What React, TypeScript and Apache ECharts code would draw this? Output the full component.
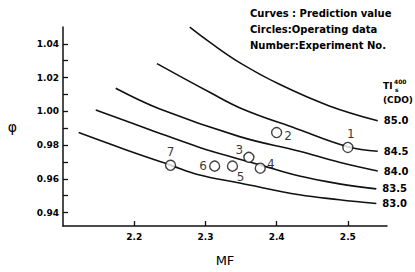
import React, { useEffect, useRef } from "react";
import * as echarts from "echarts";

// Prediction curves (MF, phi) for each TI value
const curveNames = ["85.0", "84.5", "84.0", "83.5", "83.0"];
const curve850: [number, number][] = [
  [2.278, 1.0499], [2.306, 1.041], [2.348, 1.0289], [2.404, 1.016], [2.474, 1.0032], [2.542, 0.9944],
];
const curve845: [number, number][] = [
  [2.232, 1.0283], [2.306, 1.0113], [2.352, 1.0014], [2.428, 0.9897], [2.5, 0.979], [2.542, 0.9763],
];
const curve840: [number, number][] = [
  [2.174, 1.0137], [2.236, 1.0014], [2.348, 0.985], [2.432, 0.9763], [2.488, 0.9698], [2.542, 0.9646],
];
const curve835: [number, number][] = [
  [2.146, 1.0008], [2.222, 0.9891], [2.292, 0.9786], [2.348, 0.9716], [2.378, 0.9681], [2.432, 0.9616], [2.488, 0.957], [2.54, 0.954],
];
const curve830: [number, number][] = [
  [2.122, 0.9874], [2.187, 0.9774], [2.251, 0.9681], [2.292, 0.9622], [2.348, 0.9575], [2.432, 0.9505], [2.488, 0.9476], [2.54, 0.9453],
];
const curves = [curve850, curve845, curve840, curve835, curve830];

// Operating data
const expNo = ["1", "2", "3", "4", "5", "6", "7"];
const expMF = [2.5, 2.4, 2.361, 2.377, 2.338, 2.313, 2.251];
const expPhi = [0.9786, 0.9874, 0.9727, 0.9663, 0.9675, 0.9675, 0.968];

const xTicks = [2.2, 2.3, 2.4, 2.5];
const yLabels = [0.94, 0.96, 0.98, 1.0, 1.02, 1.04];
const yMinorTicks = [0.94, 0.95, 0.96, 0.97, 0.98, 0.99, 1.0, 1.01, 1.02, 1.03, 1.04];

const legendLines = ["Curves : Prediction value", "Circles:Operating data", "Number:Experiment No."];

// label placement for each experiment number (style only)
const labelPlace: Record<string, { position: string; offset: number[] }> = {
  "1": { position: "top", offset: [3, 0] },
  "2": { position: "right", offset: [0, 3] },
  "3": { position: "left", offset: [2, -7] },
  "4": { position: "right", offset: [-1, -4] },
  "5": { position: "bottom", offset: [8, -3] },
  "6": { position: "left", offset: [0, 0] },
  "7": { position: "top", offset: [0, 0] },
};

const FONT = "DejaVu Sans";
const INK = "#000";

export default function App() {
  const ref = useRef<HTMLDivElement>(null);
  useEffect(() => {
    if (!ref.current) return;
    const chart = echarts.init(ref.current, null, { renderer: "svg" });
    const lineSeries = curves.map((c, i) => ({
      type: "line",
      name: curveNames[i],
      data: c,
      smooth: 0.4,
      showSymbol: false,
      symbol: "none",
      lineStyle: { color: "#111", width: 1.6 },
      endLabel: {
        show: true,
        formatter: curveNames[i],
        distance: 6,
        fontFamily: FONT,
        fontWeight: "bold",
        fontSize: 10,
        color: INK,
      },
      z: 2,
    }));
    const scatterData = expNo.map((n, i) => ({
      name: n,
      value: [expMF[i], expPhi[i]],
      label: {
        show: true,
        formatter: n,
        position: labelPlace[n].position,
        offset: labelPlace[n].offset,
        distance: 2,
        fontFamily: FONT,
        fontSize: 12,
        color: INK,
        textBorderWidth: 0,
        textBorderColor: "transparent",
      },
    }));
    chart.setOption({
      animation: false,
      backgroundColor: "#fff",
      grid: { left: 63, right: 28, top: 27, bottom: 43 },
      xAxis: {
        type: "value",
        min: 2.1,
        max: 2.555,
        interval: 0.1,
        name: "MF",
        nameLocation: "middle",
        nameGap: 28,
        nameTextStyle: { fontFamily: FONT, fontSize: 13, color: INK },
        axisLine: { lineStyle: { color: "#111", width: 1.5 } },
        axisTick: { show: true, inside: true, length: 5, customValues: xTicks, lineStyle: { color: "#111", width: 1.3 } },
        axisLabel: {
          customValues: xTicks,
          formatter: (v: number) => v.toFixed(1),
          fontFamily: FONT,
          fontWeight: "bold",
          fontSize: 9,
          color: INK,
          margin: 6,
        },
        splitLine: { show: false },
      },
      yAxis: {
        type: "value",
        min: 0.932,
        max: 1.05,
        name: "φ",
        nameLocation: "middle",
        nameRotate: 0,
        nameGap: 46,
        nameTextStyle: { fontFamily: FONT, fontSize: 14, color: INK },
        axisLine: { show: true, lineStyle: { color: "#111", width: 1.5 } },
        axisTick: { show: true, inside: true, length: 5, customValues: yMinorTicks, lineStyle: { color: "#111", width: 1.3 } },
        axisLabel: {
          customValues: yLabels,
          formatter: (v: number) => v.toFixed(2),
          fontFamily: FONT,
          fontWeight: "bold",
          fontSize: 9,
          color: INK,
          margin: 4,
        },
        splitLine: { show: false },
      },
      graphic: [
        ...legendLines.map((t, i) => ({
          type: "text",
          left: 250,
          top: 8 + i * 16,
          style: { text: t, fontFamily: FONT, fontWeight: "bold", fontSize: 10, fill: INK },
        })),
        { type: "text", left: 383, top: 81, style: { text: "TI", fontFamily: FONT, fontWeight: "bold", fontSize: 9, fill: INK } },
        { type: "text", left: 394, top: 78, style: { text: "400", fontFamily: FONT, fontWeight: "bold", fontSize: 6, fill: INK } },
        { type: "text", left: 395, top: 86, style: { text: "s", fontFamily: FONT, fontWeight: "bold", fontSize: 6, fill: INK } },
        { type: "text", left: 383, top: 95, style: { text: "(CDO)", fontFamily: FONT, fontWeight: "bold", fontSize: 9, fill: INK } },
      ],
      series: [
        ...lineSeries,
        {
          type: "scatter",
          data: scatterData,
          symbol: "circle",
          symbolSize: 10,
          label: { color: INK, textBorderWidth: 0 },
          itemStyle: { color: "#fff", borderColor: "#111", borderWidth: 1.4 },
          z: 3,
        },
      ],
    });
    return () => chart.dispose();
  }, []);
  return <div ref={ref} style={{ position: "absolute", left: 0, top: 0, width: 415, height: 272 }} />;
}
